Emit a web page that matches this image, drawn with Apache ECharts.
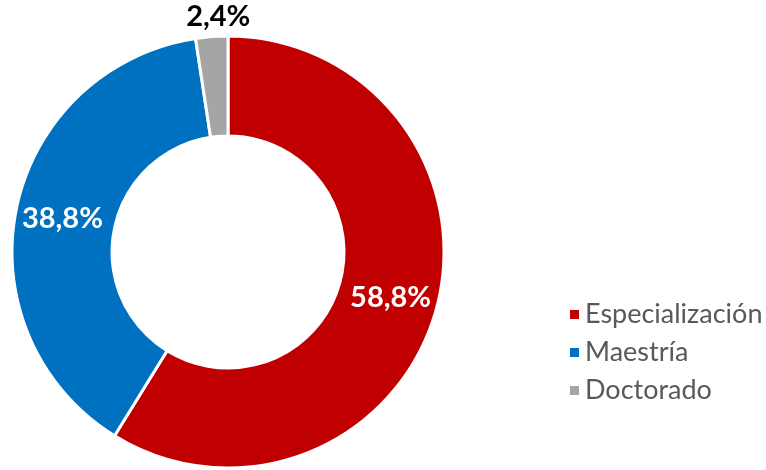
<!DOCTYPE html>
<html>
<head>
<meta charset="utf-8">
<script src="https://cdn.jsdelivr.net/npm/echarts@6/dist/echarts.min.js"></script>
<style>
  html, body { margin: 0; padding: 0; background: #fff; }
  #chart { width: 766px; height: 470px; }
</style>
</head>
<body>
<div id="chart"></div>
<script>
// Distribución por nivel de formación (%)
const categories = ['Especialización', 'Maestría', 'Doctorado'];
const values = [58.8, 38.8, 2.4];
const colors = ['#C00000', '#0070C0', '#A5A5A5'];

const fmt = v => v.toFixed(1).replace('.', ',') + '%';

const data = categories.map((name, i) => {
  const item = {
    name: name,
    value: values[i],
    itemStyle: { color: colors[i] }
  };
  if (i === 2) {
    // small slice: label sits above the ring
    item.label = { color: '#000000', offset: [3, -67] };
  }
  return item;
});

const chart = echarts.init(document.getElementById('chart'));
chart.setOption({
  backgroundColor: '#ffffff',
  animation: false,
  legend: {
    orient: 'vertical',
    left: 563,
    top: 296,
    icon: 'rect',
    itemWidth: 11,
    itemHeight: 11,
    itemGap: 11,
    itemTextGap: 10,
    data: categories,
    textStyle: {
      fontFamily: 'Lato',
      fontSize: 27,
      lineHeight: 27,
      color: '#595959'
    }
  },
  series: [{
    type: 'pie',
    center: [228, 252],
    radius: [116, 216],
    startAngle: 90,
    clockwise: true,
    itemStyle: { borderColor: '#ffffff', borderWidth: 3 },
    label: {
      show: true,
      position: 'inside',
      formatter: p => fmt(p.value),
      fontFamily: 'Lato',
      fontWeight: 'bold',
      fontSize: 29,
      color: '#ffffff'
    },
    labelLine: { show: false },
    emphasis: { disabled: true },
    data: data
  }]
});
</script>
</body>
</html>
